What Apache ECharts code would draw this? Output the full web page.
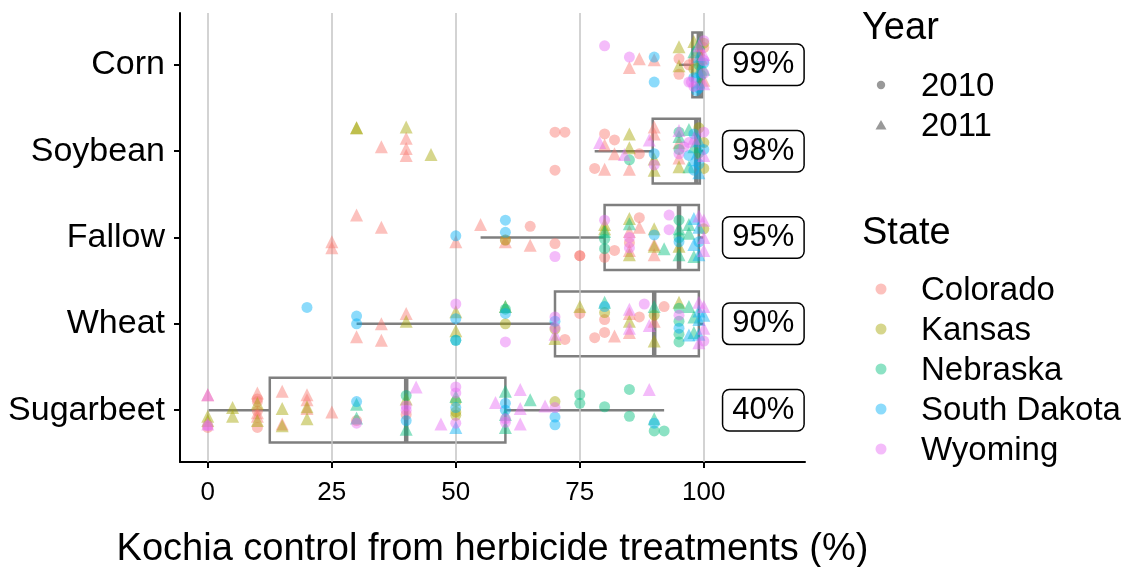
<!DOCTYPE html>
<html>
<head>
<meta charset="utf-8">
<script src="https://cdn.jsdelivr.net/npm/echarts@6.0.0/dist/echarts.min.js"></script>
<style>
  html, body { margin: 0; padding: 0; background: #fff; }
  #chart { width: 1123px; height: 567px; }
</style>
</head>
<body>
<div id="chart"></div>
<script>
// crops top to bottom
const cropNames = ["Corn", "Soybean", "Fallow", "Wheat", "Sugarbeet"];
const medianLabels = ["99%", "98%", "95%", "90%", "40%"];
const xTicks = [0, 25, 50, 75, 100];

const stateNames = ["Colorado", "Kansas", "Nebraska", "South Dakota", "Wyoming"];
const stateCodes = ["CO", "KS", "NE", "SD", "WY"];
const stateColors = ["#F8766D", "#A3A500", "#00BF7D", "#00B0F6", "#E76BF3"];
const yearNames = ["2010", "2011"];

// box stats: [min, q1, median, q3, max]
const boxCorn = [95, 97.7, 99, 99.7, 100];
const boxSoybean = [78, 89.7, 98.5, 99.2, 100];
const boxFallow = [55, 80, 95, 99, 100];
const boxWheat = [30, 70, 90, 99, 100];
const boxSugarbeet = [0, 12.5, 40, 60, 92];

// points: [control %, vertical jitter, state, year]
const cornPoints = [
  [80, 0.22, "WY", 2010], [85, 0.09, "WY", 2010], [87, 0.07, "CO", 2011], [85, -0.03, "CO", 2011],
  [90, 0.09, "SD", 2010], [90, 0.06, "CO", 2011], [90, -0.2, "SD", 2010],
  [95, 0.21, "KS", 2011], [95, 0.07, "CO", 2010], [95, -0.01, "KS", 2011], [95, -0.11, "CO", 2010],
  [97, 0.0, "CO", 2010], [97, -0.2, "WY", 2010],
  [98, 0.27, "KS", 2011], [99, 0.25, "NE", 2011], [100, 0.28, "WY", 2010], [100, 0.2, "CO", 2010],
  [98, 0.15, "NE", 2011], [99, 0.1, "SD", 2011], [100, 0.12, "WY", 2011], [98, 0.05, "CO", 2010],
  [99, 0.0, "NE", 2010], [100, 0.02, "SD", 2010], [98, -0.05, "KS", 2010], [99, -0.08, "SD", 2011],
  [100, -0.1, "WY", 2010], [98, -0.15, "SD", 2010], [99, -0.2, "NE", 2011], [100, -0.22, "WY", 2011],
  [98, -0.25, "WY", 2010], [99, -0.27, "SD", 2010], [100, -0.18, "CO", 2011], [99, 0.18, "CO", 2011],
  [100, 0.25, "KS", 2010], [99.5, -0.12, "NE", 2010], [99.5, 0.08, "KS", 2011], [97.5, -0.2, "WY", 2010],
  [100, -0.05, "NE", 2011], [99, 0.22, "WY", 2011], [98.5, -0.3, "SD", 2010], [100, 0.05, "WY", 2010]
];
const soybeanPoints = [
  [30, 0.27, "KS", 2011], [30, 0.27, "KS", 2011], [40, 0.28, "KS", 2011],
  [40, 0.15, "CO", 2011], [40, 0.03, "CO", 2011], [40, -0.05, "CO", 2011],
  [35, 0.05, "CO", 2011], [45, -0.04, "KS", 2011],
  [70, 0.22, "CO", 2010], [72, 0.22, "CO", 2010], [70, -0.22, "CO", 2010],
  [80, 0.2, "CO", 2010], [79, 0.1, "WY", 2011], [80, 0.07, "CO", 2011], [82, 0.13, "CO", 2010],
  [85, 0.2, "KS", 2011], [82, -0.03, "CO", 2011], [78, -0.2, "CO", 2010], [80, -0.21, "CO", 2011],
  [85, 0.04, "KS", 2011], [84, -0.04, "WY", 2011], [85, -0.1, "NE", 2010], [85, -0.21, "CO", 2011],
  [87, -0.03, "CO", 2010],
  [90, 0.28, "CO", 2011], [90, 0.2, "CO", 2011], [89, 0.13, "WY", 2011], [90, -0.03, "SD", 2010],
  [90, -0.09, "KS", 2011], [90, -0.16, "WY", 2010], [90, -0.22, "KS", 2011],
  [95, 0.22, "NE", 2010], [95, 0.24, "WY", 2011], [95, 0.17, "NE", 2011], [95, 0.1, "CO", 2011],
  [95, -0.03, "WY", 2010], [95, -0.08, "CO", 2011], [95, -0.18, "KS", 2011], [95, 0.02, "NE", 2010],
  [97, 0.25, "NE", 2011], [98, 0.2, "SD", 2010], [99, 0.27, "KS", 2010], [100, 0.22, "WY", 2010],
  [97, 0.1, "WY", 2010], [98, 0.05, "NE", 2011], [99, 0.12, "SD", 2011], [100, 0.1, "KS", 2010],
  [97, -0.05, "SD", 2010], [98, -0.1, "SD", 2011], [99, -0.02, "NE", 2010], [100, -0.05, "WY", 2011],
  [97, -0.18, "NE", 2011], [98, -0.22, "SD", 2010], [99, -0.15, "SD", 2010], [100, -0.2, "KS", 2010],
  [98, 0.15, "WY", 2011], [99, -0.25, "SD", 2011], [100, 0.02, "SD", 2010], [96, 0.05, "WY", 2010]
];
const fallowPoints = [
  [25, -0.05, "CO", 2011], [25, -0.12, "CO", 2011], [30, 0.26, "CO", 2011], [35, 0.12, "CO", 2011],
  [50, 0.02, "SD", 2010], [50, -0.05, "CO", 2011], [55, 0.15, "CO", 2011],
  [60, 0.2, "SD", 2010], [60, 0.06, "SD", 2010], [60, -0.03, "KS", 2010], [60, -0.03, "CO", 2010], [60, -0.05, "CO", 2011],
  [65, 0.13, "CO", 2010], [65, -0.09, "CO", 2011], [70, -0.07, "CO", 2010], [70, -0.22, "WY", 2010],
  [75, -0.21, "CO", 2010], [75, -0.21, "CO", 2010],
  [80, 0.2, "WY", 2010], [80, 0.15, "KS", 2011], [80, 0.07, "NE", 2011], [80, -0.02, "NE", 2010],
  [80, -0.13, "NE", 2010], [80, -0.23, "CO", 2010], [80, 0.1, "KS", 2011], [82, -0.15, "CO", 2010],
  [85, 0.22, "KS", 2011], [85, 0.16, "NE", 2011], [85, 0.07, "CO", 2011], [85, 0.0, "WY", 2010],
  [85, -0.06, "CO", 2010], [85, -0.12, "WY", 2010], [85, -0.2, "KS", 2011], [85, -0.15, "CO", 2011],
  [87, 0.23, "CO", 2010], [87, 0.12, "CO", 2011],
  [90, 0.1, "KS", 2011], [90, 0.03, "SD", 2010], [90, -0.08, "CO", 2011], [90, -0.1, "KS", 2011], [90, -0.2, "CO", 2011],
  [92, -0.13, "NE", 2011], [93, 0.26, "WY", 2010], [93, 0.09, "WY", 2010],
  [95, 0.2, "NE", 2010], [95, 0.1, "NE", 2011], [95, 0.0, "NE", 2010], [95, -0.1, "KS", 2011],
  [95, -0.2, "NE", 2011], [95, -0.05, "SD", 2010],
  [97, 0.15, "NE", 2011], [97, 0.05, "NE", 2011], [98, 0.22, "SD", 2011], [98, -0.08, "SD", 2011],
  [99, 0.25, "WY", 2011], [99, 0.12, "SD", 2011], [99, -0.2, "SD", 2011], [100, 0.2, "WY", 2011],
  [100, 0.0, "WY", 2011], [100, -0.15, "WY", 2011], [98, -0.22, "NE", 2011], [100, 0.1, "KS", 2010],
  [99, -0.05, "SD", 2010]
];
const wheatPoints = [
  [20, 0.19, "SD", 2010], [30, 0.09, "SD", 2010], [30, 0.0, "SD", 2010], [30, -0.15, "CO", 2011],
  [35, 0.0, "CO", 2011], [35, -0.19, "CO", 2011], [40, 0.12, "CO", 2011], [40, 0.03, "KS", 2011],
  [50, 0.23, "WY", 2010], [50, 0.14, "KS", 2011], [50, 0.06, "SD", 2010], [50, -0.08, "KS", 2011],
  [50, -0.19, "NE", 2010], [50, -0.19, "SD", 2010],
  [60, 0.2, "KS", 2011], [60, 0.17, "NE", 2010], [60, 0.12, "SD", 2010], [60, 0.0, "KS", 2010],
  [60, -0.21, "WY", 2010], [60, 0.2, "NE", 2011],
  [70, 0.08, "WY", 2010], [70, 0.03, "SD", 2010], [70, -0.04, "WY", 2010], [70, -0.12, "WY", 2011],
  [70, -0.17, "KS", 2011], [70, -0.06, "KS", 2010], [72, -0.18, "CO", 2010],
  [75, 0.2, "KS", 2011], [75, 0.12, "CO", 2010], [78, -0.16, "CO", 2010], [80, -0.1, "CO", 2010],
  [82, -0.14, "CO", 2011], [80, 0.25, "NE", 2011], [80, 0.2, "SD", 2010], [80, 0.13, "KS", 2010],
  [80, 0.05, "CO", 2010], [88, 0.23, "WY", 2010],
  [85, 0.17, "WY", 2011], [85, 0.12, "CO", 2011], [85, 0.03, "KS", 2011], [85, -0.05, "WY", 2011],
  [85, -0.1, "CO", 2011], [87, 0.08, "CO", 2010], [92, 0.2, "CO", 2010],
  [90, 0.2, "NE", 2011], [90, 0.1, "KS", 2010], [90, 0.03, "CO", 2011], [89, -0.02, "WY", 2011],
  [90, -0.2, "KS", 2011],
  [95, 0.25, "KS", 2011], [95, 0.18, "NE", 2010], [95, 0.1, "WY", 2010], [95, 0.03, "NE", 2010],
  [95, -0.05, "SD", 2010], [95, -0.12, "NE", 2010], [95, -0.21, "NE", 2010],
  [97, -0.13, "SD", 2011], [97, 0.2, "NE", 2011],
  [99, 0.25, "WY", 2011], [99, 0.15, "SD", 2011], [100, 0.2, "WY", 2011], [99, 0.05, "SD", 2011],
  [100, -0.05, "WY", 2011], [99, -0.12, "SD", 2011], [100, -0.2, "WY", 2010], [98, -0.1, "NE", 2011],
  [100, 0.1, "SD", 2011], [99, -0.22, "WY", 2011], [98, 0.08, "NE", 2011]
];
const sugarbeetPoints = [
  [0, 0.18, "CO", 2011], [0, 0.18, "WY", 2011], [0, -0.07, "KS", 2011], [0, -0.12, "KS", 2011],
  [0, -0.16, "WY", 2011], [0, -0.2, "CO", 2010], [0, -0.18, "WY", 2010],
  [5, 0.03, "KS", 2011], [5, -0.07, "KS", 2011],
  [10, 0.2, "CO", 2011], [10, 0.13, "CO", 2010], [10, 0.08, "KS", 2011], [10, -0.01, "CO", 2010],
  [10, -0.07, "CO", 2011], [10, -0.12, "KS", 2011], [10, -0.2, "CO", 2010], [10, 0.1, "CO", 2010],
  [10, -0.03, "CO", 2011],
  [15, 0.22, "CO", 2011], [15, 0.02, "KS", 2011], [15, -0.16, "CO", 2011], [15, -0.18, "KS", 2011],
  [20, 0.18, "CO", 2011], [20, 0.12, "CO", 2011], [20, 0.02, "CO", 2011], [20, -0.1, "KS", 2011],
  [20, 0.04, "KS", 2011], [25, -0.02, "CO", 2011],
  [30, 0.1, "SD", 2010], [30, 0.07, "NE", 2011], [30, -0.09, "NE", 2011], [30, -0.15, "WY", 2010],
  [30, -0.12, "CO", 2010],
  [40, 0.17, "NE", 2010], [40, 0.13, "KS", 2011], [40, 0.05, "WY", 2010], [40, 0.0, "WY", 2010],
  [40, -0.05, "CO", 2010], [40, -0.12, "SD", 2010], [40, -0.22, "NE", 2011],
  [42, 0.27, "WY", 2011], [47, -0.16, "WY", 2011],
  [50, 0.27, "WY", 2010], [50, 0.2, "WY", 2010], [50, 0.16, "NE", 2011], [50, 0.1, "KS", 2010],
  [50, 0.03, "SD", 2010], [50, -0.02, "KS", 2010], [50, -0.06, "KS", 2010], [50, -0.15, "WY", 2010],
  [50, -0.2, "SD", 2011], [58, 0.09, "WY", 2011],
  [60, 0.22, "NE", 2011], [60, 0.08, "SD", 2010], [60, 0.0, "SD", 2010], [60, -0.05, "NE", 2011],
  [60, -0.1, "WY", 2010], [60, -0.2, "NE", 2011], [60, -0.14, "WY", 2010],
  [63, 0.24, "WY", 2011], [63, 0.02, "WY", 2011], [63, -0.16, "WY", 2011],
  [65, 0.12, "NE", 2011], [68, 0.05, "WY", 2011],
  [70, 0.1, "KS", 2010], [70, 0.03, "WY", 2010], [70, -0.08, "SD", 2010], [70, -0.17, "SD", 2010],
  [75, 0.18, "NE", 2010], [75, 0.08, "NE", 2010], [80, 0.04, "NE", 2010],
  [85, 0.24, "NE", 2010], [85, -0.07, "NE", 2010], [89, 0.24, "WY", 2011],
  [90, -0.1, "NE", 2011], [90, -0.15, "SD", 2010], [90, -0.24, "NE", 2010], [92, -0.24, "NE", 2010]
];

const allBoxes = [boxCorn, boxSoybean, boxFallow, boxWheat, boxSugarbeet];
const allPoints = [cornPoints, soybeanPoints, fallowPoints, wheatPoints, sugarbeetPoints];

const FONT = "'Liberation Sans', Arial, Helvetica, sans-serif";
const chart = echarts.init(document.getElementById("chart"));

// y position of a crop row (Corn on top)
const rowPos = i => cropNames.length - i;

const boxData = allBoxes.map((b, i) => [rowPos(i)].concat(b));
const labelData = medianLabels.map((t, i) => [112, rowPos(i)]);

const stateSeries = stateCodes.map((code, s) => {
  const data = [];
  allPoints.forEach((pts, i) => {
    pts.forEach(p => {
      if (p[2] !== code) return;
      const tri = p[3] === 2011;
      data.push({
        value: [p[0], rowPos(i) + p[1]],
        symbol: tri ? "triangle" : "circle",
        symbolSize: tri ? 13 : 11
      });
    });
  });
  return {
    name: stateNames[s],
    type: "scatter",
    z: 5,
    symbol: "circle",
    itemStyle: { color: stateColors[s], opacity: 0.45 },
    emphasis: { disabled: true },
    data: data
  };
});

// legend keys drawn by hand (Year: shape, State: colour)
const legendFont = { fontSize: 33, fontFamily: FONT, fill: "#000", verticalAlign: "middle" };
const legendGraphics = [];
yearNames.forEach((y, k) => {
  const cy = 85 + k * 40;
  legendGraphics.push(k === 0
    ? { type: "circle", shape: { cx: 881, cy: cy, r: 4.2 }, style: { fill: "#999" } }
    : { type: "polygon", shape: { points: [[875.5, cy + 4.5], [886.5, cy + 4.5], [881, cy - 5]] }, style: { fill: "#999" } });
  legendGraphics.push({ type: "text", x: 921, y: cy + 2, style: Object.assign({ text: y }, legendFont) });
});
stateNames.forEach((n, k) => {
  const cy = 289 + k * 40;
  legendGraphics.push({ type: "circle", shape: { cx: 881, cy: cy, r: 5.5 },
    style: { fill: stateColors[k], opacity: 0.45 } });
  legendGraphics.push({ type: "text", x: 921, y: cy + 2, style: Object.assign({ text: n }, legendFont) });
});

const titleText = { fontSize: 38, fontWeight: "normal", color: "#000", fontFamily: FONT, lineHeight: 38 };

const option = {
  animation: false,
  backgroundColor: "#fff",
  textStyle: { fontFamily: FONT },
  grid: { left: 180, right: 318, top: 13, bottom: 105, outerBoundsMode: "none", containLabel: false },
  title: [
    { text: "Year", left: 862, top: 10, padding: 0, textStyle: titleText },
    { text: "State", left: 862, top: 215, padding: 0, textStyle: titleText }
  ],
  graphic: legendGraphics,
  xAxis: {
    type: "value", min: -5.6, max: 120.4,
    name: "Kochia control from herbicide treatments (%)",
    nameLocation: "middle", nameGap: 69,
    nameTextStyle: { fontSize: 38, color: "#000", fontFamily: FONT },
    axisLine: { show: true, onZero: false, lineStyle: { color: "#000", width: 2 } },
    axisTick: { show: true, customValues: xTicks, length: 6, lineStyle: { color: "#000", width: 2 } },
    axisLabel: { customValues: xTicks, fontSize: 26, color: "#000", margin: 18, fontFamily: FONT },
    splitLine: { show: false }
  },
  yAxis: {
    type: "value", min: 0.4, max: 5.6,
    axisLine: { show: true, onZero: false, lineStyle: { color: "#000", width: 2 } },
    axisTick: { show: true, customValues: [1, 2, 3, 4, 5], length: 6, lineStyle: { color: "#000", width: 2 } },
    axisLabel: {
      customValues: [1, 2, 3, 4, 5], fontSize: 34, color: "#000", margin: 15, fontFamily: FONT,
      formatter: v => cropNames[cropNames.length - Math.round(v)]
    },
    splitLine: { show: false }
  },
  series: [
    {
      // vertical grid lines
      type: "scatter", data: [], z: 1, silent: true,
      markLine: {
        silent: true, symbol: "none", label: { show: false },
        lineStyle: { color: "#C4C4C4", width: 1.5, type: "solid" },
        emphasis: { disabled: true },
        data: xTicks.map(v => ({ xAxis: v }))
      }
    },
    {
      // box plots
      type: "custom", z: 3, silent: true,
      data: boxData,
      encode: { x: [1, 2, 3, 4, 5], y: 0 },
      renderItem: (params, api) => {
        const y = api.value(0);
        const pMin = api.coord([api.value(1), y]);
        const pQ1 = api.coord([api.value(2), y]);
        const pMed = api.coord([api.value(3), y]);
        const pQ3 = api.coord([api.value(4), y]);
        const pMax = api.coord([api.value(5), y]);
        const h = api.size([0, 0.75])[1];
        const stroke = { stroke: "#7F7F7F", lineWidth: 2.5, fill: null };
        return {
          type: "group",
          children: [
            { type: "line", shape: { x1: pMin[0], y1: pMin[1], x2: pQ1[0], y2: pQ1[1] }, style: stroke },
            { type: "line", shape: { x1: pQ3[0], y1: pQ3[1], x2: pMax[0], y2: pMax[1] }, style: stroke },
            { type: "rect", shape: { x: pQ1[0], y: pQ1[1] - h / 2, width: pQ3[0] - pQ1[0], height: h }, style: stroke },
            { type: "line", shape: { x1: pMed[0], y1: pMed[1] - h / 2, x2: pMed[0], y2: pMed[1] + h / 2 },
              style: { stroke: "#7F7F7F", lineWidth: 4.5 } }
          ]
        };
      }
    },
    {
      // median labels
      type: "custom", z: 6, silent: true,
      data: labelData,
      encode: { x: 0, y: 1 },
      renderItem: (params, api) => {
        const p = api.coord([api.value(0), api.value(1)]);
        return {
          type: "text", x: p[0], y: p[1],
          style: {
            text: medianLabels[params.dataIndex],
            fontSize: 31, fontFamily: FONT, fill: "#000",
            align: "center", verticalAlign: "middle",
            backgroundColor: "#fff", borderColor: "#000", borderWidth: 1.5, borderRadius: 6,
            padding: [5, 9, 4, 9]
          }
        };
      }
    }
  ].concat(stateSeries)
};

chart.setOption(option);
</script>
</body>
</html>
